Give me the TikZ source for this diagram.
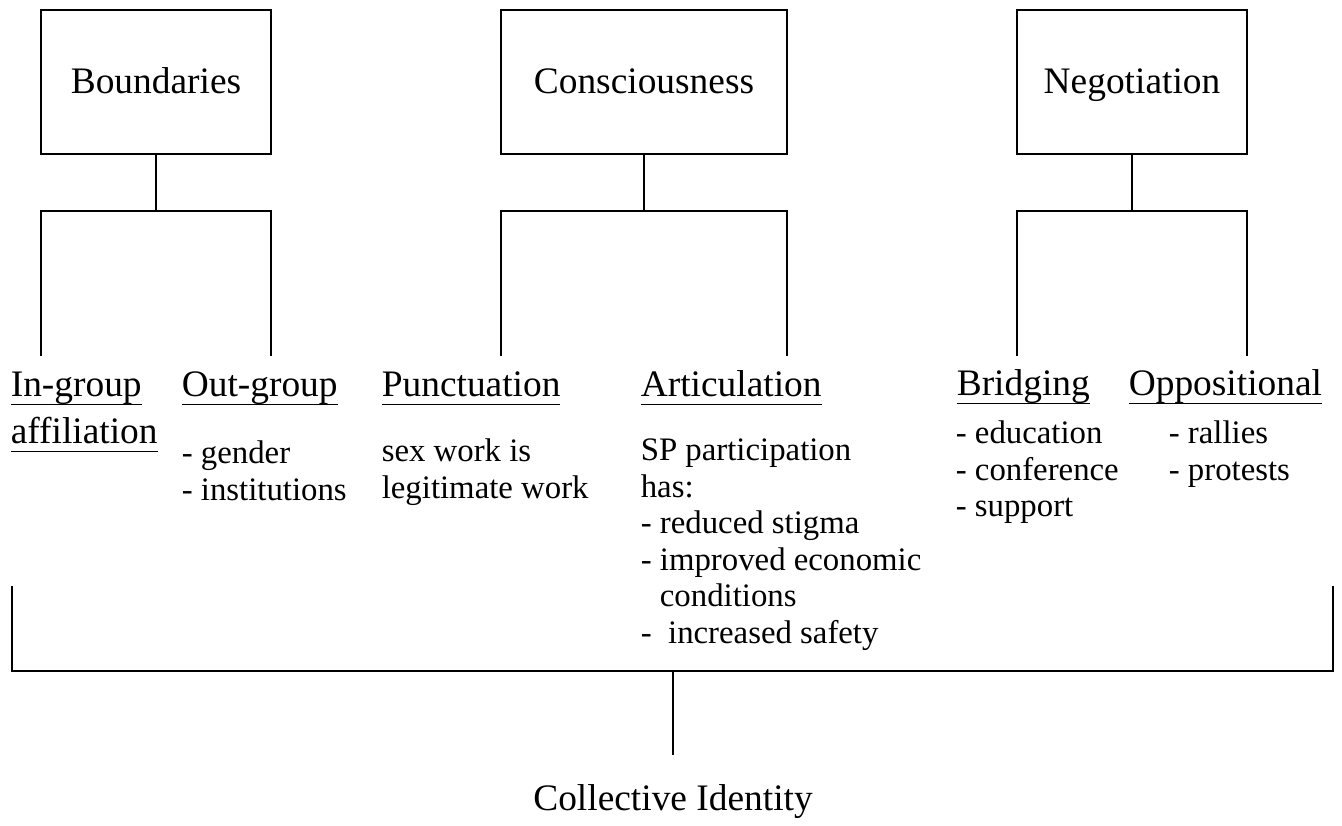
\documentclass[tikz,border=0pt]{standalone}
\usepackage{fontspec}
\setmainfont{Liberation Serif}
\usetikzlibrary{positioning}

% subrayado de los subtitulos
\newcommand{\subr}[1]{\setbox0\hbox{#1}\rlap{\rule[-4.6pt]{\wd0}{0.8pt}}\box0}

\begin{document}
\begin{tikzpicture}[
		x=0.5pt, y=-0.5pt,
		line width=0.8pt,
		% cajas superiores
		tbox/.style = {draw, rectangle, minimum width=115pt, minimum height=72pt, text height=13pt, text depth=2pt, font=\fontsize{18.7}{22}\selectfont},
		% subtitulos subrayados
		sub_head/.style = {inner sep=0pt, anchor=base west, font=\fontsize{18.7}{22}\selectfont},
		% listas de puntos
		item_list/.style = {inner sep=0pt, anchor=north west, align=left, font=\fontsize{16.4}{18.3}\selectfont}
		]
		\useasboundingbox (0,0) rectangle (1342,825);
		
		% --- PARTE SUPERIOR: Cajas ---
		\node [tbox] at (156,82) (bound) {Boundaries};
		\node [tbox, minimum width=143pt] at (644,82) (consc) {Consciousness};
		\node [tbox] at (1132,82) (negot) {Negotiation};
		
		% --- Ramas ---
		\coordinate (bnd_j) at (156,211);
		\coordinate (bnd_l) at (41,356);
		\coordinate (bnd_r) at (271,356);
		\coordinate (con_j) at (644,211);
		\coordinate (con_l) at (501,356);
		\coordinate (con_r) at (787,356);
		\coordinate (neg_j) at (1132,211);
		\coordinate (neg_l) at (1017,356);
		\coordinate (neg_r) at (1247,356);
		
		\draw (bound) -- (bnd_j);
		\draw (bnd_l) |- (bnd_j) -| (bnd_r);
		\draw (consc) -- (con_j);
		\draw (con_l) |- (con_j) -| (con_r);
		\draw (negot) -- (neg_j);
		\draw (neg_l) |- (neg_j) -| (neg_r);
		
		% --- Subtitulos ---
		\node [sub_head] at (10,396) (ingrp) {\subr{In-group}};
		\node [sub_head] at (10,443) (affil) {\subr{affiliation}};
		\node [sub_head] at (181,396) (outgrp) {\subr{Out-group}};
		\node [sub_head] at (381,396) (punct) {\subr{Punctuation}};
		\node [sub_head] at (640,396) (artic) {\subr{Articulation}};
		\node [sub_head] at (956,395) (bridg) {\subr{Bridging}};
		\node [sub_head] at (1128,395) (oppos) {\subr{Oppositional}};
		
		% --- Listas ---
		\node [item_list] at (181,440) (out_list) {- gender\\- institutions};
		\node [item_list] at (381,438) (punct_list) {sex work is\\legitimate work};
		\node [item_list] at (640,438) (artic_list) {SP participation\\has:\\- reduced stigma\\- improved economic\\\phantom{-}\ conditions\\-\ \ increased safety};
		\node [item_list] at (955,420) (bridg_list) {- education\\- conference\\- support};
		\node [item_list] at (1168,420) (oppos_list) {- rallies\\- protests};
		
		% --- PARTE INFERIOR: Identidad colectiva ---
		\coordinate (br_l) at (12,586);
		\coordinate (br_r) at (1333,586);
		\coordinate (br_j) at (673,671);
		\node [anchor=base, inner xsep=0pt, inner ysep=13.9pt, font=\fontsize{18.7}{22}\selectfont] at (673,810) (coll) {Collective Identity};
		
		\draw (br_l) |- (br_j) -| (br_r);
		\draw (br_j) -- (coll);
		
	\end{tikzpicture}
\end{document}
